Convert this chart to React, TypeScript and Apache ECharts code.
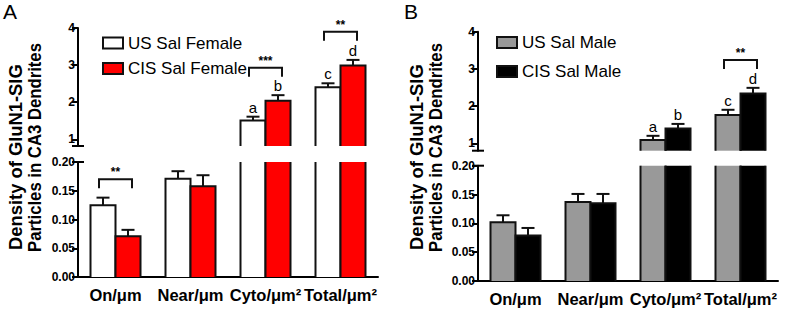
import React, { useEffect, useRef } from 'react';
import * as echarts from 'echarts';

// ---------- data ----------
const categories = ['On/μm', 'Near/μm', 'Cyto/μm²', 'Total/μm²'];
const upperTicks = [1, 2, 3, 4];

const usFemale = [0.125, 0.171, 1.51, 2.4];
const usFemaleErr = [0.013, 0.013, 0.1, 0.11];
const usFemaleLetters = ['', '', 'a', 'c'];
const cisFemale = [0.071, 0.158, 2.04, 2.99];
const cisFemaleErr = [0.011, 0.019, 0.15, 0.15];
const cisFemaleLetters = ['', '', 'b', 'd'];

const usMale = [0.102, 0.137, 1.09, 1.76];
const usMaleErr = [0.012, 0.014, 0.11, 0.14];
const usMaleLetters = ['', '', 'a', 'c'];
const cisMale = [0.079, 0.135, 1.4, 2.34];
const cisMaleErr = [0.013, 0.016, 0.12, 0.15];
const cisMaleLetters = ['', '', 'b', 'd'];

const sigCatsA = [0, 2, 3];
const sigHeightsA = [0.17, 2.93, 3.9];
const sigMarksA = ['**', '***', '**'];
const sigCatsB = [3];
const sigHeightsB = [3.24];
const sigMarksB = ['**'];

const titleLine1 = 'Density of GluN1-SIG';
const titleLine2 = 'Particles in CA3 Dendrites';

// ---------- layout / style ----------
const FONT = 'Arial, Liberation Sans, Helvetica, sans-serif';
const STROKE = '#111';
const LOWER_MAX = 0.2;
const UPPER_MAX = 4;

const panels = [
  { left: 78, upperTop: 28, upperBottom: 146, lowerTop: 162, lowerBottom: 277, upperMin: 0.82, label: 'A', labelX: 3, titleX: 16 },
  { left: 478, upperTop: 31.7, upperBottom: 150.7, lowerTop: 165.7, lowerBottom: 281, upperMin: 0.8, label: 'B', labelX: 404, titleX: 417 },
];
const GRID_W = 300;
const H = 312;

function buildOption() {
  const grid: any[] = [];
  const xAxis: any[] = [];
  const yAxis: any[] = [];
  panels.forEach((p, pi) => {
    grid.push({ left: p.left, width: GRID_W, top: p.upperTop, height: p.upperBottom - p.upperTop });
    grid.push({ left: p.left, width: GRID_W, top: p.lowerTop, height: p.lowerBottom - p.lowerTop });
    xAxis.push({ type: 'category', gridIndex: pi * 2, data: categories, show: false });
    xAxis.push({
      type: 'category', gridIndex: pi * 2 + 1, data: categories,
      axisLine: { lineStyle: { color: '#000', width: 2 } },
      axisTick: { alignWithLabel: true, length: 5, lineStyle: { color: '#000', width: 2 } },
      axisLabel: { interval: 0, fontSize: 16.5, fontWeight: 'bold', color: '#000', fontFamily: FONT, margin: 9 },
    });
    yAxis.push({
      type: 'value', gridIndex: pi * 2, min: p.upperMin, max: UPPER_MAX,
      splitLine: { show: false },
      axisLine: { show: true, lineStyle: { color: '#000', width: 2 } },
      axisTick: { show: true, length: 6, customValues: upperTicks, lineStyle: { color: '#000', width: 2 } },
      axisLabel: { customValues: upperTicks, fontSize: 12, fontWeight: 'bold', color: '#000', fontFamily: FONT, margin: 3 },
    });
    yAxis.push({
      type: 'value', gridIndex: pi * 2 + 1, min: 0, max: LOWER_MAX, interval: 0.05,
      splitLine: { show: false },
      axisLine: { show: true, lineStyle: { color: '#000', width: 2 } },
      axisTick: { show: true, length: 6, lineStyle: { color: '#000', width: 2 } },
      axisLabel: { fontSize: 12, fontWeight: 'bold', color: '#000', fontFamily: FONT, margin: 3, formatter: (v: number) => v.toFixed(2) },
    });
  });

  const specs = [
    { panel: 0, name: 'US Sal Female', fill: '#ffffff', values: usFemale, errs: usFemaleErr, letters: usFemaleLetters, side: -1 },
    { panel: 0, name: 'CIS Sal Female', fill: '#ff0000', values: cisFemale, errs: cisFemaleErr, letters: cisFemaleLetters, side: 1 },
    { panel: 1, name: 'US Sal Male', fill: '#999999', values: usMale, errs: usMaleErr, letters: usMaleLetters, side: -1 },
    { panel: 1, name: 'CIS Sal Male', fill: '#000000', values: cisMale, errs: cisMaleErr, letters: cisMaleLetters, side: 1 },
  ];

  const series: any[] = [];
  specs.forEach((s) => {
    const p = panels[s.panel];
    [true, false].forEach((upper) => {
      const min = upper ? p.upperMin : 0;
      const max = upper ? UPPER_MAX : LOWER_MAX;
      const gi = s.panel * 2 + (upper ? 0 : 1);
      const data = s.values
        .map((v, i) => [i, v, s.errs[i]])
        .filter((d) => (upper ? d[1] > min : true));
      series.push({
        type: 'custom', name: s.name, xAxisIndex: gi, yAxisIndex: gi,
        itemStyle: { color: s.fill, borderColor: STROKE, borderWidth: 2 },
        clip: false, silent: true, z: 3,
        encode: { x: 0, y: 1 },
        data,
        renderItem: (params: any, api: any) => {
          const i = api.value(0);
          const v = api.value(1);
          const e = api.value(2);
          const band = api.size([1, 0])[0];
          const bw = band / 3;
          const cx = api.coord([i, min])[0];
          const x0 = s.side < 0 ? cx - bw : cx;
          const bx = x0 + bw / 2;
          const yBase = api.coord([i, min])[1];
          const clipped = v > max;
          const yTop = api.coord([i, clipped ? max : v])[1];
          const lineStyle = { stroke: STROKE, lineWidth: 2, fill: null };
          const children: any[] = [
            { type: 'rect', shape: { x: x0, y: yTop, width: bw, height: yBase - yTop }, style: { fill: s.fill } },
          ];
          if (clipped) {
            children.push({ type: 'line', shape: { x1: x0, y1: yBase, x2: x0, y2: yTop }, style: lineStyle });
            children.push({ type: 'line', shape: { x1: x0 + bw, y1: yBase, x2: x0 + bw, y2: yTop }, style: lineStyle });
          } else {
            const yErr = api.coord([i, v + e])[1];
            children.push({ type: 'line', shape: { x1: bx, y1: yTop, x2: bx, y2: yErr }, style: lineStyle });
            children.push({ type: 'line', shape: { x1: bx - 6.5, y1: yErr, x2: bx + 6.5, y2: yErr }, style: lineStyle });
            children.push({
              type: 'polyline',
              shape: { points: [[x0, yBase], [x0, yTop], [x0 + bw, yTop], [x0 + bw, yBase]] },
              style: lineStyle,
            });
            const letter = s.letters[i];
            if (letter) {
              children.push({
                type: 'text', x: bx, y: yErr - 2,
                style: {
                  text: letter, fill: '#000', fontSize: 15, fontFamily: FONT,
                  align: 'center', textAlign: 'center', verticalAlign: 'bottom', textVerticalAlign: 'bottom',
                },
              });
            }
          }
          return { type: 'group', children };
        },
      });
    });
  });

  // significance brackets
  const sigSets = [
    { panel: 0, cats: sigCatsA, heights: sigHeightsA, marks: sigMarksA },
    { panel: 1, cats: sigCatsB, heights: sigHeightsB, marks: sigMarksB },
  ];
  sigSets.forEach((ss) => {
    [true, false].forEach((upper) => {
      const gi = ss.panel * 2 + (upper ? 0 : 1);
      const data: any[] = [];
      ss.cats.forEach((c, k) => {
        const isUpper = ss.heights[k] > LOWER_MAX;
        if (isUpper === upper) data.push([c, ss.heights[k], k]);
      });
      if (!data.length) return;
      series.push({
        type: 'custom', xAxisIndex: gi, yAxisIndex: gi, clip: false, silent: true, z: 5,
        encode: { x: 0, y: 1 },
        data,
        renderItem: (params: any, api: any) => {
          const pt = api.coord([api.value(0), api.value(1)]);
          const k = api.value(2);
          const hw = api.size([1, 0])[0] * 0.22;
          return {
            type: 'group',
            children: [
              {
                type: 'polyline',
                shape: { points: [[pt[0] - hw, pt[1] + 9], [pt[0] - hw, pt[1]], [pt[0] + hw, pt[1]], [pt[0] + hw, pt[1] + 9]] },
                style: { stroke: STROKE, lineWidth: 2, fill: null },
              },
              {
                type: 'text', x: pt[0], y: pt[1] - 1,
                style: {
                  text: ss.marks[k], fill: '#000', fontSize: 12, fontWeight: 'bold', fontFamily: FONT,
                  align: 'center', textAlign: 'center', verticalAlign: 'bottom', textVerticalAlign: 'bottom',
                },
              },
            ],
          };
        },
      });
    });
  });

  // axis break caps
  panels.forEach((p, pi) => {
    [true, false].forEach((upper) => {
      const gi = pi * 2 + (upper ? 0 : 1);
      series.push({
        type: 'custom', xAxisIndex: gi, yAxisIndex: gi, clip: false, silent: true, z: 6,
        data: [[0, upper ? p.upperMin : LOWER_MAX]],
        renderItem: (params: any) => {
          const cs = params.coordSys;
          const y = upper ? cs.y + cs.height : cs.y;
          return {
            type: 'line',
            shape: { x1: cs.x - 6, y1: y, x2: cs.x + 6, y2: y },
            style: { stroke: '#000', lineWidth: 2 },
          };
        },
      });
    });
  });

  const legendBase = {
    orient: 'vertical', itemWidth: 20, itemHeight: 11, selectedMode: false,
    textStyle: { fontSize: 17, fontFamily: FONT, color: '#000' },
  };
  const legend = [
    {
      ...legendBase, left: 97, top: 29.5, itemGap: 8.5,
      data: [
        { name: 'US Sal Female', icon: 'rect', itemStyle: { color: '#ffffff', borderColor: STROKE, borderWidth: 2 } },
        { name: 'CIS Sal Female', icon: 'rect', itemStyle: { color: '#ff0000', borderColor: STROKE, borderWidth: 2 } },
      ],
    },
    {
      ...legendBase, left: 491, top: 29, itemGap: 12,
      data: [
        { name: 'US Sal Male', icon: 'rect', itemStyle: { color: '#999999', borderColor: STROKE, borderWidth: 2 } },
        { name: 'CIS Sal Male', icon: 'rect', itemStyle: { color: '#000000', borderColor: STROKE, borderWidth: 2 } },
      ],
    },
  ];

  const titleStyle = {
    fontSize: 17.5, fontWeight: 'bold', fontFamily: FONT, fill: '#000',
    align: 'left', textAlign: 'left', verticalAlign: 'middle', textVerticalAlign: 'middle',
  };
  const graphic: any[] = [];
  panels.forEach((p) => {
    graphic.push({
      type: 'text', left: p.labelX, top: 1,
      style: { text: p.label, fontSize: 21, fontFamily: FONT, fill: '#000' },
    });
    graphic.push({
      type: 'text', x: p.titleX, y: 250, rotation: Math.PI / 2, scaleX: 1.05,
      style: { ...titleStyle, text: titleLine1 },
    });
    graphic.push({
      type: 'text', x: p.titleX + 19.5, y: 252, rotation: Math.PI / 2, scaleX: 0.955,
      style: { ...titleStyle, text: titleLine2 },
    });
  });

  return {
    animation: false,
    backgroundColor: '#ffffff',
    grid, xAxis, yAxis, series, legend, graphic,
  };
}

export default function App() {
  const ref = useRef<HTMLDivElement>(null);
  useEffect(() => {
    document.body.style.margin = '0';
    const chart = echarts.init(ref.current!, null, { renderer: 'svg' });
    chart.setOption(buildOption() as any);
    return () => chart.dispose();
  }, []);
  return <div ref={ref} style={{ position: 'absolute', left: 0, top: 0, width: 790, height: H }} />;
}
